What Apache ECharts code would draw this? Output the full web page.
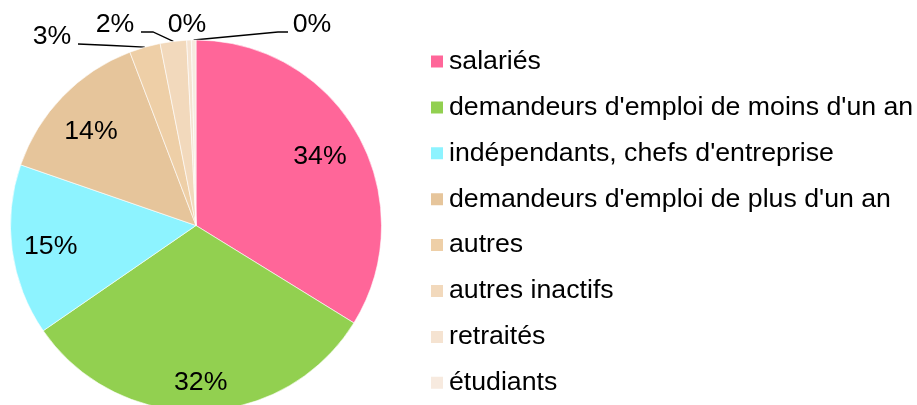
<!DOCTYPE html>
<html>
<head>
<meta charset="utf-8">
<script src="https://cdn.jsdelivr.net/npm/echarts@6/dist/echarts.min.js"></script>
<style>
  html, body { margin: 0; padding: 0; background: #fff; }
  #chartbox { width: 917px; height: 405px; }
</style>
</head>
<body>
<div id="chartbox"></div>
<script>
// parts (%), clockwise from 12 o'clock
const categories = [
  "salariés",
  "demandeurs d'emploi de moins d'un an",
  "indépendants, chefs d'entreprise",
  "demandeurs d'emploi de plus d'un an",
  "autres",
  "autres inactifs",
  "retraités",
  "étudiants"
];
const values = [33.8, 31.6, 14.9, 13.9, 2.7, 2.3, 0.4, 0.4];
const colors = ["#FF6699", "#92D050", "#8DF3FF", "#E6C59B", "#EECFA7", "#F2D9BC", "#F5E3D1", "#F7EADF"];

// small nudges for the labels inside the big slices
const innerOffsets = [[-5, 3], [1, 9], [1, 1], [1, 9]];
// label placement for the thin slices at the top (text centre + elbow of the line)
const outerLabels = {
  4: { x: 52, y: 37, line: [[112, 45.5], [78, 44]] },
  5: { x: 115, y: 25, line: [[153, 32], [141, 32]] },
  6: { x: 187, y: 25, line: null },
  7: { x: 312, y: 25, line: [[278, 32], [288, 32]] }
};

const FONT = "'Liberation Sans', Arial, sans-serif";
const FS = 26.7;
const cx = 196, cy = 225.5, R = 185.5;

const fmt = (p) => Math.round(p.value) + "%";

const pieData = categories.map((name, i) => ({
  name: name,
  value: values[i],
  itemStyle: { color: colors[i] },
  label: { show: i >= 4 },
  labelLine: { show: i >= 4 && outerLabels[i].line !== null }
}));

const labelData = categories.map((name, i) => ({
  name: name,
  value: values[i],
  label: { show: i < 4, offset: innerOffsets[i] || [0, 0] }
}));

let chartDom = document.getElementById("chartbox");
let myChart = echarts.init(chartDom);
let option = {
  animation: false,
  legend: {
    orient: "vertical",
    left: 429,
    top: 48,
    padding: 0,
    icon: "rect",
    itemWidth: 14,
    itemHeight: 14,
    itemGap: 18.9,
    selectedMode: false,
    data: categories,
    textStyle: {
      fontFamily: FONT,
      fontSize: FS,
      color: "#000",
      padding: [0, 0, 0, 0]
    }
  },
  series: [
    {
      type: "pie",
      center: [cx, cy],
      radius: R,
      startAngle: 90,
      silent: true,
      itemStyle: {
        borderColor: "#ffffff",
        borderWidth: 0.6
      },
      label: {
        position: "outside",
        overflow: "none",
        formatter: fmt,
        fontFamily: FONT,
        fontSize: FS,
        color: "#000"
      },
      labelLine: {
        length: 10,
        length2: 10,
        lineStyle: { color: "#000", width: 1.3 }
      },
      labelLayout: function (params) {
        let cfg = outerLabels[params.dataIndex];
        if (!cfg) return {};
        let res = { x: cfg.x, y: cfg.y, align: "center", verticalAlign: "middle" };
        if (cfg.line && params.labelLinePoints) {
          res.labelLinePoints = [params.labelLinePoints[0]].concat(cfg.line);
        }
        return res;
      },
      data: pieData
    },
    {
      // transparent ring only used to place the inner labels further out
      type: "pie",
      center: [cx, cy],
      radius: [R * 0.56, R],
      startAngle: 90,
      silent: true,
      legendHoverLink: false,
      itemStyle: { color: "rgba(0,0,0,0)", borderWidth: 0 },
      label: {
        position: "inside",
        formatter: fmt,
        fontFamily: FONT,
        fontSize: FS,
        color: "#000"
      },
      labelLine: { show: false },
      data: labelData
    }
  ]
};
option && myChart.setOption(option);
</script>
</body>
</html>
